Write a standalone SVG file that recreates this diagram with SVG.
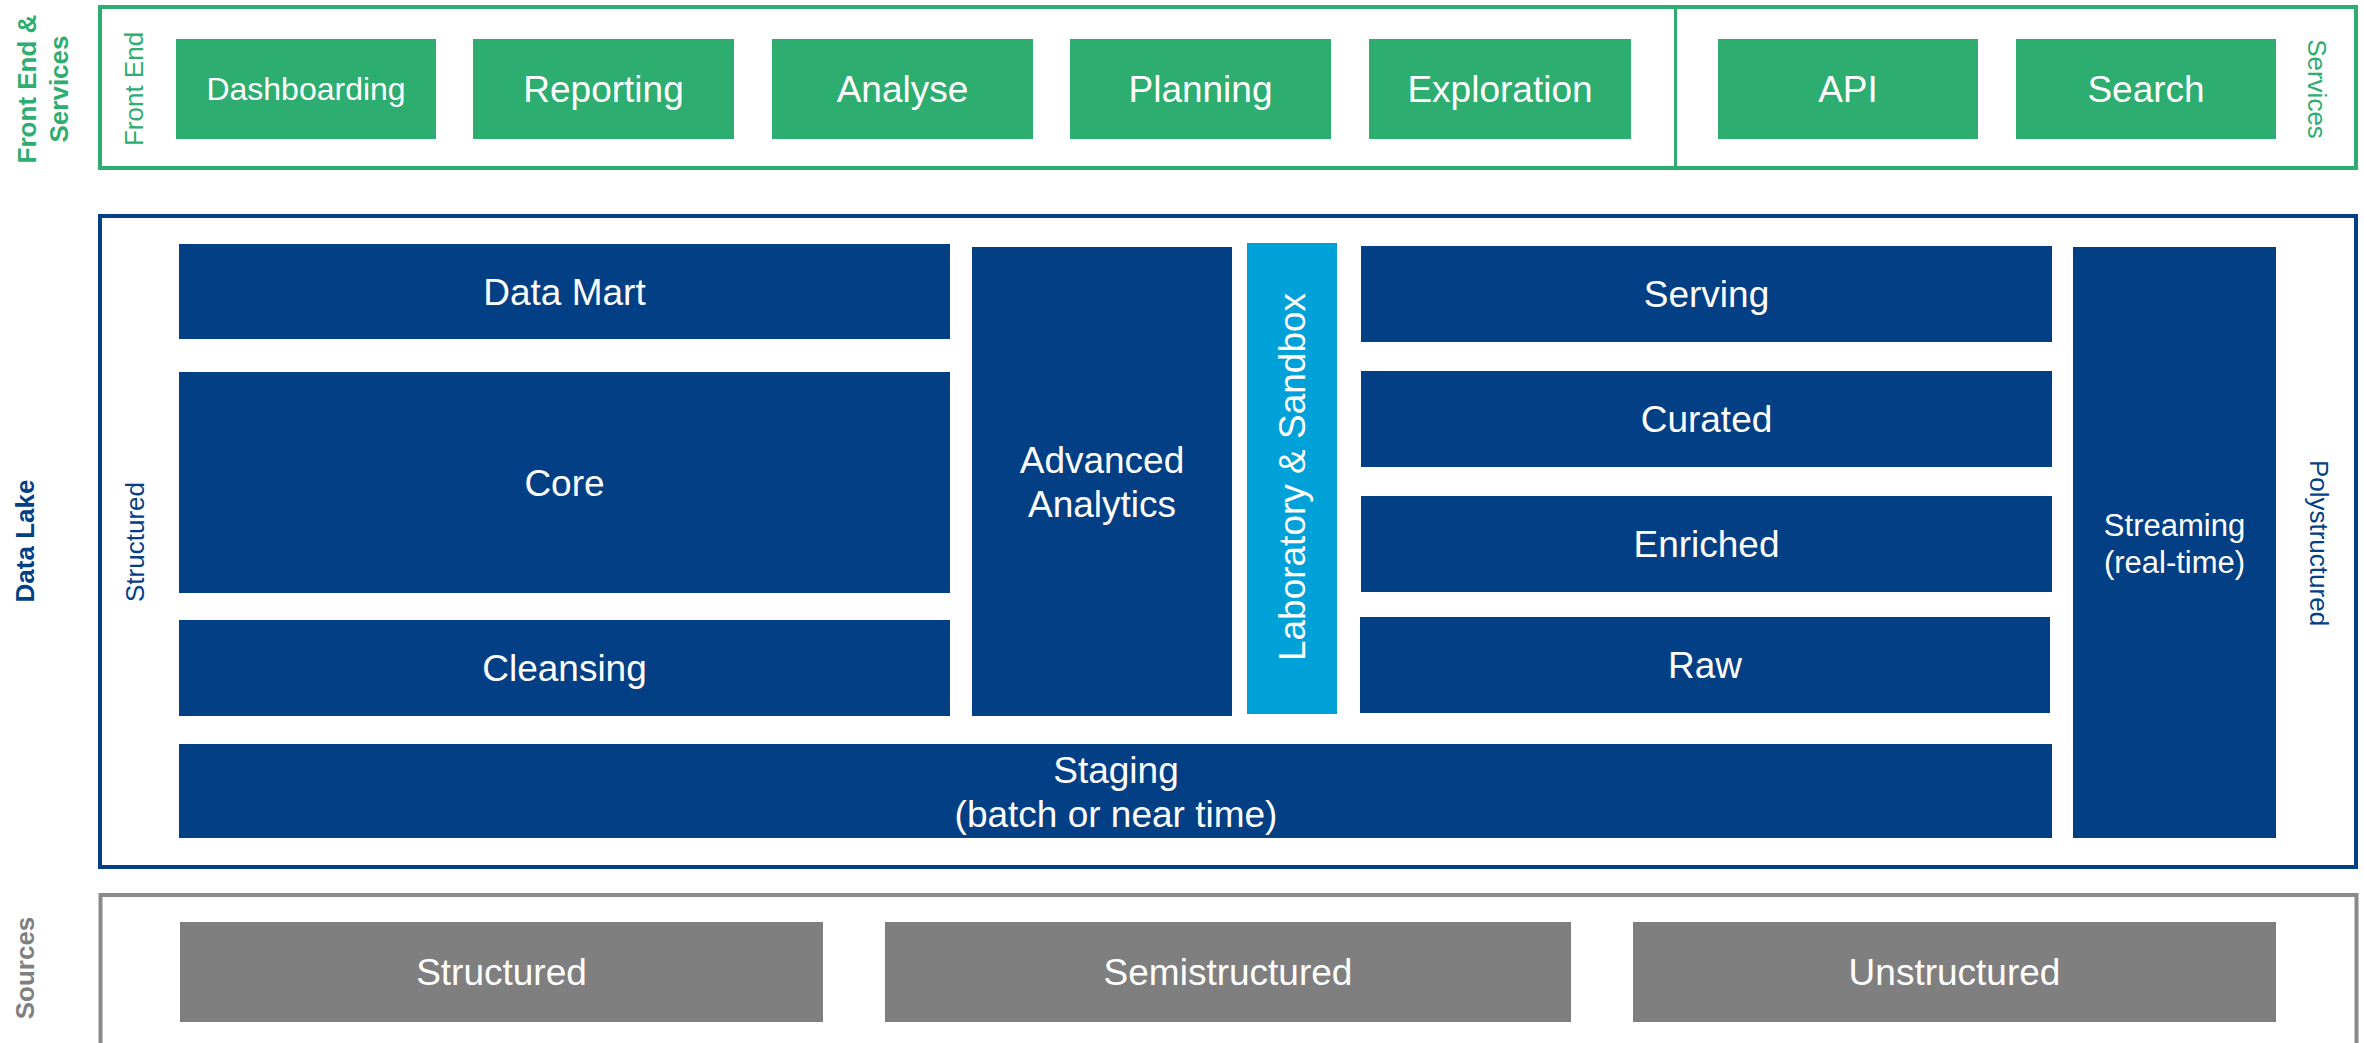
<svg xmlns="http://www.w3.org/2000/svg" width="2364" height="1043" viewBox="0 0 2364 1043">
<style>
text{font-family:"Liberation Sans",Arial,sans-serif;}
.g{fill:#2DAD6F;}
.b{fill:#033F84;}
.lb{fill:#00A0D8;}
.s{fill:#7F7F7F;}
.lbl{fill:#fff;font-size:37px;text-anchor:middle;}
.side{font-size:26px;text-anchor:middle;}
.bold{font-weight:bold;}
</style>
<rect width="2364" height="1043" fill="#fff"/>
<g id="frame-frontend">
<rect x="100" y="7" width="2256" height="161" fill="none" stroke="#2DAD6F" stroke-width="4"/>
<line x1="1675.5" y1="7" x2="1675.5" y2="168" stroke="#2DAD6F" stroke-width="3"/>
<text class="side bold" fill="#2DAD6F" transform="translate(36,89) rotate(-90)">Front End &amp;</text>
<text class="side bold" fill="#2DAD6F" transform="translate(68,89) rotate(-90)">Services</text>
<text class="side" fill="#2DAD6F" transform="translate(143,89) rotate(-90)">Front End</text>
<text class="side" fill="#2DAD6F" transform="translate(2308,89) rotate(90)">Services</text>
</g>
<g id="dashboarding"><rect class="g" x="176" y="39" width="260" height="100"/><text class="lbl" x="306" y="100" style="font-size:32px">Dashboarding</text></g>
<g id="reporting"><rect class="g" x="473" y="39" width="261" height="100"/><text class="lbl" x="603.5" y="102">Reporting</text></g>
<g id="analyse"><rect class="g" x="772" y="39" width="261" height="100"/><text class="lbl" x="902.5" y="102">Analyse</text></g>
<g id="planning"><rect class="g" x="1070" y="39" width="261" height="100"/><text class="lbl" x="1200.5" y="102">Planning</text></g>
<g id="exploration"><rect class="g" x="1369" y="39" width="262" height="100"/><text class="lbl" x="1500" y="102">Exploration</text></g>
<g id="api"><rect class="g" x="1718" y="39" width="260" height="100"/><text class="lbl" x="1848" y="102">API</text></g>
<g id="search"><rect class="g" x="2016" y="39" width="260" height="100"/><text class="lbl" x="2146" y="102">Search</text></g>

<g id="frame-datalake">
<rect x="100" y="216" width="2256" height="651" fill="none" stroke="#033F84" stroke-width="4"/>
<text class="side bold" fill="#033F84" transform="translate(34,541) rotate(-90)">Data Lake</text>
<text class="side" fill="#033F84" transform="translate(144,542) rotate(-90)">Structured</text>
<text class="side" fill="#033F84" transform="translate(2310,543) rotate(90)">Polystructured</text>
</g>
<g id="datamart"><rect class="b" x="179" y="244" width="771" height="95"/><text class="lbl" x="564.5" y="305">Data Mart</text></g>
<g id="core"><rect class="b" x="179" y="372" width="771" height="221"/><text class="lbl" x="564.5" y="496">Core</text></g>
<g id="cleansing"><rect class="b" x="179" y="620" width="771" height="96"/><text class="lbl" x="564.5" y="681">Cleansing</text></g>
<g id="advanced-analytics"><rect class="b" x="972" y="247" width="260" height="469"/><text class="lbl" x="1102" y="473">Advanced</text><text class="lbl" x="1102" y="517">Analytics</text></g>
<g id="laboratory-sandbox"><rect class="lb" x="1247" y="243" width="90" height="471"/><text class="lbl" transform="translate(1305,477) rotate(-90)">Laboratory &amp; Sandbox</text></g>
<g id="serving"><rect class="b" x="1361" y="246" width="691" height="96"/><text class="lbl" x="1706.5" y="307">Serving</text></g>
<g id="curated"><rect class="b" x="1361" y="371" width="691" height="96"/><text class="lbl" x="1706.5" y="432">Curated</text></g>
<g id="enriched"><rect class="b" x="1361" y="496" width="691" height="96"/><text class="lbl" x="1706.5" y="557">Enriched</text></g>
<g id="raw"><rect class="b" x="1360" y="617" width="690" height="96"/><text class="lbl" x="1705" y="678">Raw</text></g>
<g id="staging"><rect class="b" x="179" y="744" width="1873" height="94"/><text class="lbl" x="1116" y="783">Staging</text><text class="lbl" x="1116" y="827">(batch or near time)</text></g>
<g id="streaming"><rect class="b" x="2073" y="247" width="203" height="591"/><text class="lbl" x="2174.5" y="536" style="font-size:31px">Streaming</text><text class="lbl" x="2174.5" y="573" style="font-size:31px">(real-time)</text></g>

<g id="frame-sources">
<rect x="100.5" y="895" width="2256" height="200" fill="none" stroke="#8A8A8A" stroke-width="4"/>
<text class="side bold" fill="#7F7F7F" transform="translate(34,968) rotate(-90)">Sources</text>
</g>
<g id="src-structured"><rect class="s" x="180" y="922" width="643" height="100"/><text class="lbl" x="501.5" y="985">Structured</text></g>
<g id="src-semistructured"><rect class="s" x="885" y="922" width="686" height="100"/><text class="lbl" x="1228" y="985">Semistructured</text></g>
<g id="src-unstructured"><rect class="s" x="1633" y="922" width="643" height="100"/><text class="lbl" x="1954.5" y="985">Unstructured</text></g>
<g id="connectors"></g>
</svg>
